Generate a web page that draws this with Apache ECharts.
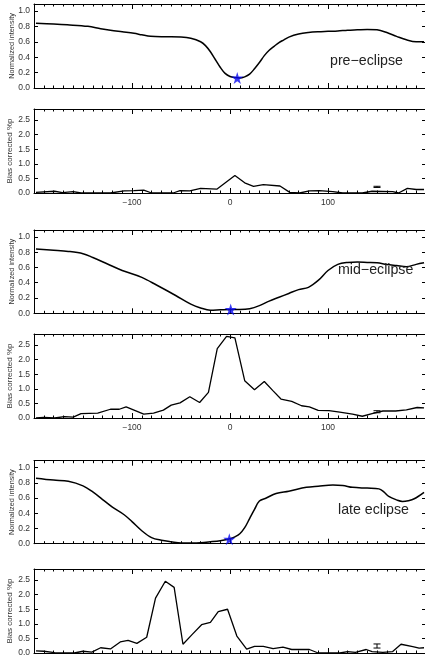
<!DOCTYPE html>
<html>
<head>
<meta charset="utf-8">
<script src="https://cdn.jsdelivr.net/npm/echarts@6/dist/echarts.min.js"></script>
<style>html,body{margin:0;padding:0;background:#fff}#c{width:425px;height:659px}</style>
</head>
<body>
<div id="c"></div>
<script>
// ---------- DATA ----------
const xTickLabels = [-100, 0, 100];
const panelLabels = ['pre\u2212eclipse', 'mid\u2212eclipse', 'late eclipse'];

const preIntX = [-198,-180,-166,-145,-132,-122,-110,-98,-90,-81,-70,-60,-50,-40,-30,-25,-20,-15,-10,-5,0,5,10,15,20,25,30,35,40,45,50,55,60,70,80,90,100,110,120,130,140,150,160,170,180,190,198];
const preIntY = [0.84,0.83,0.82,0.80,0.77,0.75,0.73,0.71,0.69,0.67,0.665,0.665,0.662,0.645,0.60,0.55,0.47,0.37,0.27,0.19,0.15,0.135,0.13,0.145,0.18,0.25,0.33,0.42,0.49,0.54,0.59,0.625,0.66,0.70,0.72,0.73,0.735,0.74,0.75,0.755,0.76,0.755,0.72,0.67,0.625,0.60,0.60];

const midIntX = [-198,-180,-165,-150,-140,-125,-110,-90,-75,-55,-40,-30,-20,-10,0,10,20,30,40,50,60,70,80,90,100,110,120,130,140,150,160,170,180,190,198];
const midIntY = [0.84,0.825,0.81,0.78,0.73,0.645,0.56,0.47,0.37,0.23,0.12,0.07,0.04,0.045,0.05,0.05,0.06,0.10,0.16,0.21,0.26,0.31,0.34,0.43,0.56,0.64,0.665,0.67,0.665,0.66,0.64,0.625,0.61,0.64,0.66];

const lateIntX = [-198,-180,-165,-150,-140,-130,-120,-108,-100,-90,-80,-70,-60,-50,-40,-30,-20,-10,0,5,10,15,20,25,30,37,47,60,78,90,105,115,125,140,152,157,162,170,176,182,188,198];
const lateIntY = [0.86,0.835,0.82,0.76,0.68,0.58,0.48,0.38,0.29,0.17,0.08,0.045,0.025,0.01,0.01,0.013,0.025,0.04,0.065,0.09,0.13,0.21,0.33,0.45,0.56,0.60,0.66,0.69,0.74,0.755,0.77,0.765,0.74,0.73,0.72,0.68,0.62,0.575,0.555,0.565,0.59,0.675];

const starX = [7.4, 0.7, -0.7];
const starY = [0.13, 0.05, 0.06];

const preBiasX = [-198,-179,-171,-160,-152,-122,-108,-98,-88,-80,-58,-51,-41,-30,-13.5,5,15,24,34,51,61,71,81,91,105,115,135,145,166,172,181,190,198];
const preBiasY = [0.02,0.06,0.01,0.05,0.0,0.0,0.07,0.08,0.1,0.0,0.0,0.08,0.07,0.16,0.13,0.6,0.35,0.23,0.29,0.24,0.02,0.0,0.07,0.08,0.05,0.0,0.0,0.06,0.05,0.0,0.16,0.12,0.12];

const midBiasX = [-198,-190,-179,-169,-160,-152,-135,-122,-113,-106,-88,-78,-68,-60,-51,-41,-31,-22,-13,-3.5,5,15,25,35,44,52,63,73,81,90,101,112,125,135,145,156,169,180,191,198];
const midBiasY = [0.0,0.02,0.0,0.05,0.03,0.15,0.17,0.3,0.3,0.38,0.13,0.17,0.27,0.44,0.52,0.73,0.53,0.88,2.38,2.8,2.75,1.28,0.97,1.25,0.93,0.65,0.57,0.42,0.38,0.26,0.25,0.2,0.13,0.06,0.15,0.24,0.24,0.28,0.36,0.35];

const lateBiasX = [-198,-190,-179,-159,-150,-141,-132,-122,-112,-104,-95,-85,-76,-66,-57,-48,-39,-29,-20,-12,-2.5,7,17,25,34,44,54,63,73,81,90,112,120,128,139,145,156,166,174.5,186.5,193,198];
const lateBiasY = [0.07,0.06,0.01,0.0,0.06,0.03,0.18,0.14,0.38,0.43,0.33,0.54,1.88,2.46,2.25,0.3,0.62,0.97,1.05,1.42,1.5,0.58,0.13,0.23,0.23,0.15,0.2,0.12,0.12,0.12,0.0,0.0,0.05,0.02,0.12,0.05,0.02,0.05,0.3,0.22,0.17,0.18];

const errX = [150, 150, 150];
const errLo = [0.19, 0.18, 0.17];
const errHi = [0.23, 0.25, 0.31];

// ---------- LAYOUT ----------
const FONT = 'Liberation Sans, Arial, Helvetica, sans-serif';
const tops = [4, 109, 230, 334, 460.7, 569];
const heights = [84, 84, 83.3, 84, 83, 84];
const gridLeft = 34, gridWidth = 392;

const zip = (a, b) => a.map((v, i) => [v, b[i]]);
const intSeries = [zip(preIntX, preIntY), zip(midIntX, midIntY), zip(lateIntX, lateIntY)];
const biasSeries = [zip(preBiasX, preBiasY), zip(midBiasX, midBiasY), zip(lateBiasX, lateBiasY)];

const grids = [], xAxes = [], yAxes = [], series = [];
const fmtNum = v => (v < 0 ? '\u2212' : '') + Math.abs(v);

for (let g = 0; g < 6; g++) {
  const isBias = g % 2 === 1;
  grids.push({ left: gridLeft, top: tops[g], width: gridWidth, height: heights[g],
    containLabel: false, outerBoundsMode: 'none' });
  const xBase = {
    type: 'value', gridIndex: g, min: -200, max: 200, interval: 100,
    axisLine: { show: true, onZero: false, lineStyle: { color: '#000', width: 1 } },
    axisTick: { show: true, inside: true, length: 5, lineStyle: { color: '#000' } },
    minorTick: { show: true, splitNumber: 10, length: 2.5, lineStyle: { color: '#000' } },
    splitLine: { show: false }
  };
  xAxes.push(Object.assign({}, xBase, {
    position: 'bottom',
    axisLabel: {
      show: isBias, margin: 5, fontSize: 8.5, color: '#333', fontFamily: FONT,
      formatter: v => (xTickLabels.indexOf(v) >= 0 ? fmtNum(v) : '')
    }
  }));
  xAxes.push(Object.assign({}, xBase, { position: 'top', axisLabel: { show: false } }));

  const yBase = {
    type: 'value', gridIndex: g, min: 0,
    max: isBias ? 2.88 : 1.09, interval: isBias ? 0.5 : 0.2,
    axisLine: { show: true, onZero: false, lineStyle: { color: '#000', width: 1 } },
    axisTick: { show: true, inside: true, length: 4, lineStyle: { color: '#000' } },
    splitLine: { show: false }
  };
  yAxes.push(Object.assign({}, yBase, {
    position: 'left',
    name: isBias ? 'Bias corrected %p' : 'Normalized intensity',
    nameLocation: 'middle', nameRotate: 90, nameGap: isBias ? 20 : 19,
    nameMoveOverlap: false,
    nameTextStyle: { fontSize: isBias ? 8 : 7.3, color: '#333', fontFamily: FONT },
    axisLabel: {
      show: true, margin: 4, fontSize: 8.5, color: '#333', fontFamily: FONT,
      showMaxLabel: false, formatter: v => v.toFixed(1)
    }
  }));
  yAxes.push(Object.assign({}, yBase, { position: 'right', axisLabel: { show: false } }));

  const xi = g * 2, yi = g * 2;
  const k = Math.floor(g / 2);
  if (!isBias) {
    series.push({
      type: 'line', xAxisIndex: xi, yAxisIndex: yi, data: intSeries[k],
      smooth: 0.35, showSymbol: false, symbol: 'none',
      lineStyle: { color: '#000', width: 1.5 }, animation: false, silent: true
    });
    series.push({
      type: 'scatter', xAxisIndex: xi, yAxisIndex: yi, data: [[starX[k], starY[k]]],
      symbol: 'path://M50,0 L61,35 L98,35 L68,57 L79,91 L50,70 L21,91 L32,57 L2,35 L39,35 Z',
      symbolSize: 12, itemStyle: { color: '#0a0af0' }, animation: false, z: 5
    });
  } else {
    series.push({
      type: 'line', xAxisIndex: xi, yAxisIndex: yi, data: biasSeries[k],
      showSymbol: false, symbol: 'none',
      lineStyle: { color: '#000', width: 1.3 }, animation: false, silent: true
    });
    series.push({
      type: 'custom', xAxisIndex: xi, yAxisIndex: yi,
      data: [[errX[k], errLo[k], errHi[k]]],
      renderItem: (params, api) => {
        const x = api.value(0);
        const p1 = api.coord([x, api.value(1)]);
        const p2 = api.coord([x, api.value(2)]);
        const w = 3.5, st = { stroke: '#000', lineWidth: 1 };
        return { type: 'group', children: [
          { type: 'line', shape: { x1: p1[0], y1: p1[1], x2: p2[0], y2: p2[1] }, style: st },
          { type: 'line', shape: { x1: p1[0] - w, y1: p1[1], x2: p1[0] + w, y2: p1[1] }, style: st },
          { type: 'line', shape: { x1: p2[0] - w, y1: p2[1], x2: p2[0] + w, y2: p2[1] }, style: st }
        ]};
      },
      animation: false
    });
  }
}

const labelPos = [[330, 63], [338, 271.5], [338, 511.5]];
const graphic = panelLabels.map((t, i) => ({
  type: 'text', left: labelPos[i][0], top: labelPos[i][1] - 8.5, z: 10,
  style: { text: t, fontSize: 14.2, fill: '#222', fontFamily: FONT }
}));

const chart = echarts.init(document.getElementById('c'), null, { renderer: 'canvas' });
chart.setOption({
  animation: false,
  grid: grids, xAxis: xAxes, yAxis: yAxes, series: series, graphic: graphic
});
</script>
</body>
</html>
